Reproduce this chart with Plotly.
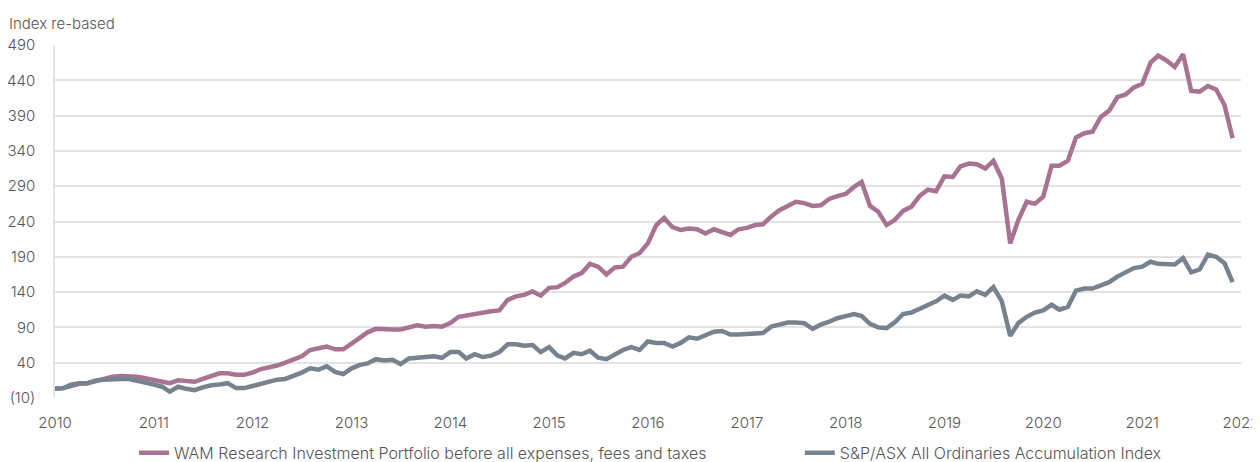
import pandas as pd
import plotly.graph_objects as go

# Monatswerte Jan 2010 bis Dez 2021
months = pd.date_range("2010-01-01", "2021-12-01", freq="MS")

wam_research = [
    3, 4, 7, 10, 11, 14, 17, 20, 21, 21, 20, 18,
    16, 14, 11, 15, 14, 13, 17, 21, 25, 25, 23, 23,
    26, 31, 33, 36, 40, 44, 49, 58, 61, 63, 59, 59,
    67, 75, 83, 88, 87, 87, 87, 90, 93, 91, 92, 91,
    96, 105, 107, 110, 112, 113, 114, 129, 134, 136, 141, 135,
    146, 147, 153, 162, 167, 180, 176, 165, 175, 176, 190, 195,
    209, 235, 245, 232, 228, 230, 229, 223, 229, 225, 221, 229,
    231, 235, 236, 247, 256, 262, 268, 266, 262, 263, 272, 276,
    279, 289, 296, 262, 254, 235, 242, 255, 261, 276, 285, 283,
    304, 303, 318, 322, 321, 315, 326, 301, 209, 242, 268, 265,
    275, 319, 319, 326, 359, 365, 367, 388, 397, 416, 420, 430,
    435, 465, 475, 468, 459, 477, 425, 424, 432, 427, 405, 358,
]

all_ords = [
    3, 4, 9, 11, 11, 15, 16, 17, 17, 17, 15, 12,
    9, 6, -1, 6, 3, 1, 5, 8, 9, 11, 4, 4,
    7, 10, 13, 16, 17, 21, 26, 32, 30, 35, 27, 24,
    32, 37, 39, 45, 43, 44, 38, 46, 47, 48, 49, 47,
    55, 55, 46, 52, 48, 50, 55, 66, 66, 64, 65, 55,
    62, 50, 46, 54, 52, 57, 47, 45, 52, 58, 62, 58,
    70, 68, 68, 63, 68, 76, 74, 79, 84, 85, 80, 80,
    81, 82, 82, 91, 94, 97, 97, 96, 88, 94, 98, 103,
    106, 109, 106, 95, 90, 89, 97, 109, 111, 116, 121, 127,
    135, 129, 135, 134, 141, 136, 147, 127, 78, 96, 105, 111,
    114, 122, 115, 119, 142, 145, 145, 149, 154, 162, 168, 174,
    176, 183, 180, 180, 179, 188, 168, 172, 193, 190, 181, 154,
]

y_ticks = [-10, 40, 90, 140, 190, 240, 290, 340, 390, 440, 490]
y_ticktext = ["(10)" if v < 0 else str(v) for v in y_ticks]

text_font = dict(family="Inter, Lato, sans-serif", size=15, color="#555555", weight=300)
legend_font = dict(text_font, size=16)

fig = go.Figure()
fig.add_trace(go.Scatter(
    x=months, y=wam_research, mode="lines",
    name="WAM Research Investment Portfolio before all expenses, fees and taxes",
    line=dict(color="#a87293", width=4.5), legend="legend",
))
fig.add_trace(go.Scatter(
    x=months, y=all_ords, mode="lines",
    name="S&P/ASX All Ordinaries Accumulation Index",
    line=dict(color="#76838f", width=4.5), legend="legend2",
))

# die Seite hat 8 px Rand, daher alles um 8 px nach links/oben versetzt
fig.update_layout(
    width=1260, height=462,
    margin=dict(l=47, r=27, t=37, b=0, autoexpand=False),
    plot_bgcolor="white", paper_bgcolor="white",
    font=text_font,
    showlegend=True,
    legend=dict(orientation="h", x=0.0666, xanchor="left",
                yref="container", y=0.074, yanchor="top", font=legend_font),
    legend2=dict(orientation="h", x=0.628, xanchor="left",
                 yref="container", y=0.074, yanchor="top", font=legend_font),
    annotations=[dict(text="Index re-based", xref="paper", yref="paper",
                      x=0, y=1, xanchor="left", yanchor="bottom",
                      xshift=-48, yshift=10, showarrow=False,
                      font=text_font)],
)

fig.update_xaxes(
    type="date", range=["2010-01-01", "2022-01-01"],
    dtick="M12", tick0="2010-01-01", tickformat="%Y",
    showgrid=False, showline=False, zeroline=False,
    ticklabelstandoff=14, automargin=False,
)
fig.update_yaxes(
    domain=[72 / 425, 1],
    range=[-10, 490], tickvals=y_ticks, ticktext=y_ticktext,
    showgrid=True, gridcolor="#e3e3e3", gridwidth=1.5,
    showline=True, linecolor="#e3e3e3", linewidth=1.5,
    zeroline=False, ticklabelstandoff=15, automargin=False,
)

fig.write_html("out.html")
